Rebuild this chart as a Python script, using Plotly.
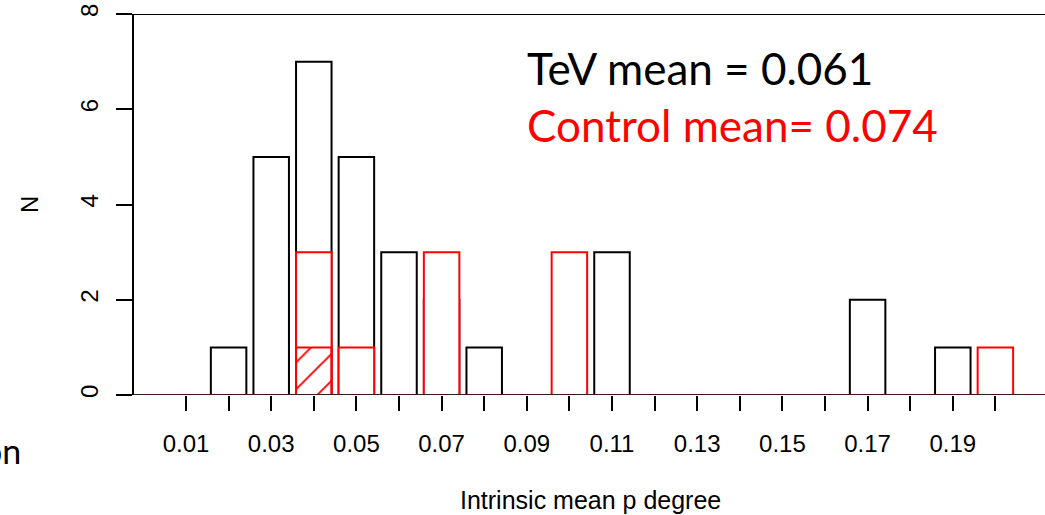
import plotly.graph_objects as go

categories = ["0.01", "0.02", "0.03", "0.04", "0.05", "0.06", "0.07", "0.08", "0.09", "0.10",
              "0.11", "0.12", "0.13", "0.14", "0.15", "0.16", "0.17", "0.18", "0.19", "0.20"]
tev_counts = [0, 1, 5, 7, 5, 3, 2, 1, 0, 0, 3, 0, 0, 0, 0, 0, 2, 0, 1, 0]
control_counts = [0, 0, 0, 3, 1, 0, 3, 0, 0, 3, 0, 0, 0, 0, 0, 0, 0, 0, 0, 1]
hatched_counts = [0, 0, 0, 1, 0, 0, 0, 0, 0, 0, 0, 0, 0, 0, 0, 0, 0, 0, 0, 0]
tick_text = [c if i % 2 == 0 else "" for i, c in enumerate(categories)]
y_ticks = [0, 2, 4, 6, 8]
tev_label = "TeV mean = 0.061"
control_label = "Control mean= 0.074"

# plot area in pixels
W, H = 1045, 515
L, R_, T, B = 134, 1045, 14, 395
pw, ph = R_ - L, B - T
def px(x):
    return (x - L) / pw
def py(y):
    return (B - y) / ph

pitch = 42.6
x0 = (L - 186) / pitch
x1 = (R_ - 186) / pitch
bw = 1 / 1.2

fig = go.Figure()
fig.add_trace(go.Bar(x=categories, y=tev_counts, width=bw,
                     marker=dict(color="rgba(0,0,0,0)", line=dict(color="black", width=2)),
                     showlegend=False))
fig.add_trace(go.Bar(x=categories, y=control_counts, width=bw,
                     marker=dict(color="white", line=dict(color="red", width=2)),
                     showlegend=False))
fig.add_trace(go.Bar(x=categories, y=hatched_counts, width=bw,
                     marker=dict(color="rgba(0,0,0,0)", line=dict(color="red", width=2),
                                 pattern=dict(shape="/", fgcolor="red", bgcolor="rgba(0,0,0,0)",
                                              size=19, solidity=0.1, fgopacity=1)),
                     showlegend=False))

fig.update_layout(
    width=W, height=H,
    margin=dict(l=L, r=W - R_, t=T, b=H - B, pad=0),
    paper_bgcolor="white", plot_bgcolor="white",
    barmode="overlay",
    font=dict(family="Liberation Sans, Arial, sans-serif", color="black"),
    xaxis=dict(type="category", categoryorder="array", categoryarray=categories,
               range=[x0, x1], tickmode="array", tickvals=categories, ticktext=tick_text,
               ticks="outside", ticklen=15, tickwidth=2, tickcolor="black",
               showline=False, showgrid=False, zeroline=False,
               tickfont=dict(size=24, color="black"), ticklabelstandoff=12),
    yaxis=dict(range=[0, 8], tickmode="array", tickvals=y_ticks,
               ticktext=[str(v) for v in y_ticks], tickangle=-90,
               ticks="outside", ticklen=16, tickwidth=2, tickcolor="black",
               showline=True, linewidth=2, linecolor="black",
               showgrid=False, zeroline=False,
               tickfont=dict(size=24, color="black"), ticklabelstandoff=8),
    shapes=[
        dict(type="line", xref="paper", yref="y", x0=0, x1=1, y0=8, y1=8,
             line=dict(color="black", width=2)),
        dict(type="line", xref="paper", yref="y", x0=0, x1=1, y0=0, y1=0,
             line=dict(color="#3a1a1a", width=2)),
    ],
    annotations=[
        dict(text="N", xref="paper", yref="paper", x=px(30), y=py(205), textangle=-90,
             xanchor="center", yanchor="middle",
             showarrow=False, font=dict(size=24, color="black")),
        dict(text="Intrinsic mean p degree", xref="paper", yref="paper", x=px(590), y=py(500),
             xanchor="center", yanchor="middle",
             showarrow=False, font=dict(size=25, color="black")),
        dict(text=tev_label, xref="paper", yref="paper", x=px(525), y=py(68),
             xanchor="left", yanchor="middle", showarrow=False,
             font=dict(size=44, color="black", family="Lato, sans-serif")),
        dict(text=control_label, xref="paper", yref="paper", x=px(525), y=py(125),
             xanchor="left", yanchor="middle", showarrow=False,
             font=dict(size=44, color="red", family="Lato, sans-serif")),
        dict(text="on", xref="paper", yref="paper", x=px(23), y=py(450),
             xanchor="right", yanchor="middle", showarrow=False,
             font=dict(size=34, color="black", family="Lato, sans-serif")),
    ],
)

fig.write_html("out.html")
